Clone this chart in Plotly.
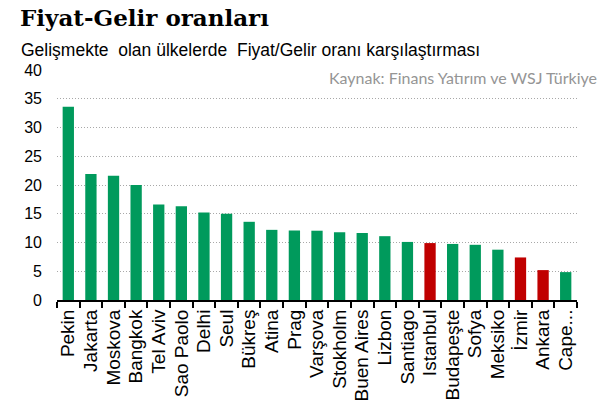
import plotly.graph_objects as go

cities = ["Pekin", "Jakarta", "Moskova", "Bangkok", "Tel Aviv", "Sao Paolo", "Delhi", "Seul",
          "Bükreş", "Atina", "Prag", "Varşova", "Stokholm", "Buen Aires", "Lizbon", "Santiago",
          "Istanbul", "Budapeşte", "Sofya", "Meksiko", "İzmir", "Ankara", "Cape..."]
ratios = [33.6, 21.9, 21.6, 20.0, 16.6, 16.3, 15.2, 15.0, 13.6, 12.2, 12.1, 12.05, 11.8, 11.65,
          11.1, 10.1, 9.9, 9.75, 9.6, 8.75, 7.4, 5.2, 4.85]
turkish = {"Istanbul", "İzmir", "Ankara"}
yticks = [0, 5, 10, 15, 20, 25, 30, 35, 40]

GREEN = "#009A5C"
RED = "#C00000"
colors = [RED if c in turkish else GREEN for c in cities]

fig = go.Figure(go.Bar(x=cities, y=ratios, marker=dict(color=colors, line=dict(width=0)),
                       hoverinfo="x+y"))

L, R, T, B = 57, 25, 70, 102
fig.update_layout(
    width=602, height=402,
    margin=dict(l=L, r=R, t=T, b=B),
    plot_bgcolor="white", paper_bgcolor="white",
    bargap=0.5,
    showlegend=False,
    font=dict(family="Liberation Sans, Arial, sans-serif", color="#000000", size=16),
    xaxis=dict(
        type="category", tickmode="array", tickvals=cities, ticktext=cities,
        tickangle=-90, showline=True, linecolor="#000000", linewidth=2,
        ticks="outside", tickson="boundaries", ticklen=6, tickwidth=2, tickcolor="#000000",
        showgrid=False, tickfont=dict(size=19), automargin=False,
    ),
    yaxis=dict(
        range=[0, 40], tickvals=yticks, showline=False, showgrid=True,
        gridcolor="#a8a8a8", griddash="1px,2px", gridwidth=1, zeroline=False,
        tickfont=dict(size=16), ticks="", automargin=False, ticklabelstandoff=14,
    ),
)

pw, ph = 602 - L - R, 402 - T - B


def px(x, y):
    return (x - L) / pw, (402 - y - B) / ph


anns = [
    ("<b>Fiyat-Gelir oranları</b>", 18, 18, "left", dict(family="DejaVu Serif, serif", size=23, color="#000000")),
    ("Gelişmekte  olan ülkelerde  Fiyat/Gelir oranı karşılaştırması", 19, 50, "left",
     dict(family="Liberation Sans, Arial, sans-serif", size=17.5, color="#000000")),
    ("Kaynak: Finans Yatırım ve WSJ Türkiye", 599, 77, "right",
     dict(family="Lato, sans-serif", size=16, color="#959595")),
]
for text, x, y, anchor, font in anns:
    ax, ay = px(x, y)
    fig.add_annotation(text=text, x=ax, y=ay, xref="paper", yref="paper", showarrow=False,
                       xanchor=anchor, yanchor="middle", font=font)

fig.write_html("out.html")
